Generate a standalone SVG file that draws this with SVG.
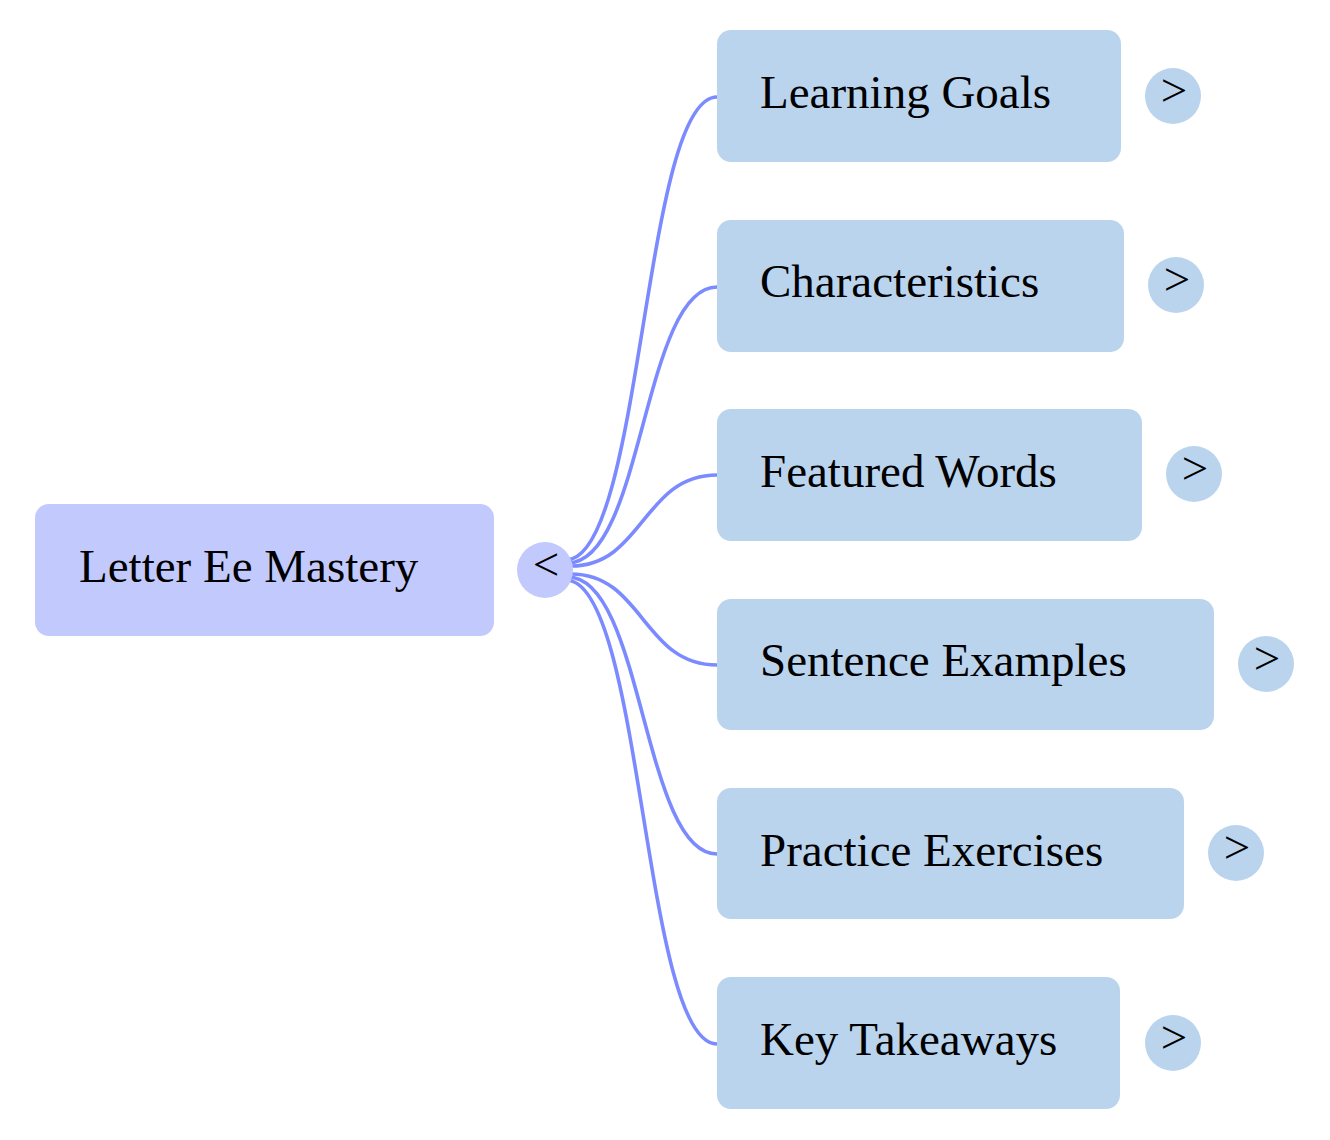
<svg xmlns="http://www.w3.org/2000/svg" width="1330" height="1140" viewBox="0 0 1330 1140">
<style>
.root{fill:#C2CAFD}
.child{fill:#BAD4EE}
.lbl{font-family:"Liberation Serif","Times New Roman",serif;font-size:47px;fill:#000}
.tog{font-family:"Liberation Serif","Times New Roman",serif;font-size:47px;fill:#000;text-anchor:middle}
.link{fill:none;stroke:#7B8BFF;stroke-width:3.6}
</style>
<rect width="1330" height="1140" fill="#fff"/>
<g id="connectors">
<path class="link" d="M566 560 C643 560 643 97 717 97"/>
<path class="link" d="M568 563 C643 563 643 287 717 287"/>
<path class="link" d="M571 566 C643 566 643 475 717 475"/>
<path class="link" d="M571 574 C643 574 643 665 717 665"/>
<path class="link" d="M568 577 C643 577 643 854 717 854"/>
<path class="link" d="M566 580 C643 580 643 1044 717 1044"/>
</g>
<g id="root">
<rect class="root" x="35" y="504" width="459" height="132" rx="14"/>
<text class="lbl" x="79" y="582">Letter Ee Mastery</text>
<circle class="root" cx="545" cy="570" r="28"/>
<text class="tog" x="546" y="580">&lt;</text>
</g>
<g id="learning-goals">
<rect class="child" x="717" y="30" width="404" height="132" rx="14"/>
<text class="lbl" x="760" y="108">Learning Goals</text>
<circle class="child" cx="1173" cy="96" r="28"/>
<text class="tog" x="1174" y="106">&gt;</text>
</g>
<g id="characteristics">
<rect class="child" x="717" y="220" width="407" height="132" rx="14"/>
<text class="lbl" x="760" y="297">Characteristics</text>
<circle class="child" cx="1176" cy="285" r="28"/>
<text class="tog" x="1177" y="295">&gt;</text>
</g>
<g id="featured-words">
<rect class="child" x="717" y="409" width="425" height="132" rx="14"/>
<text class="lbl" x="760" y="487">Featured Words</text>
<circle class="child" cx="1194" cy="474" r="28"/>
<text class="tog" x="1195" y="484">&gt;</text>
</g>
<g id="sentence-examples">
<rect class="child" x="717" y="599" width="497" height="131" rx="14"/>
<text class="lbl" x="760" y="676">Sentence Examples</text>
<circle class="child" cx="1266" cy="664" r="28"/>
<text class="tog" x="1267" y="674">&gt;</text>
</g>
<g id="practice-exercises">
<rect class="child" x="717" y="788" width="467" height="131" rx="14"/>
<text class="lbl" x="760" y="866">Practice Exercises</text>
<circle class="child" cx="1236" cy="853" r="28"/>
<text class="tog" x="1237" y="863">&gt;</text>
</g>
<g id="key-takeaways">
<rect class="child" x="717" y="977" width="403" height="132" rx="14"/>
<text class="lbl" x="760" y="1055">Key Takeaways</text>
<circle class="child" cx="1173" cy="1043" r="28"/>
<text class="tog" x="1174" y="1053">&gt;</text>
</g>
</svg>
